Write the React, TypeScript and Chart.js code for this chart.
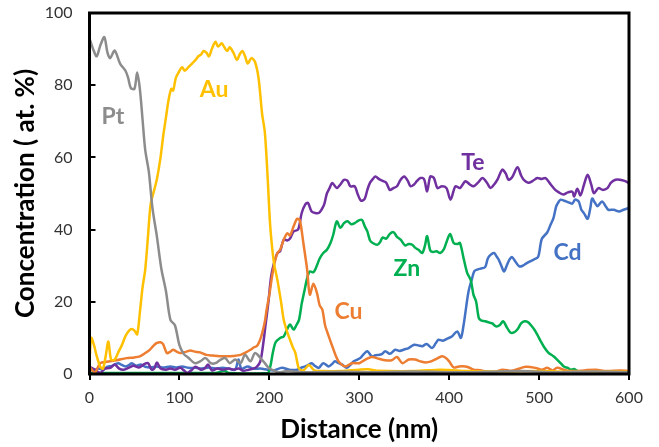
import React, { useEffect, useRef } from "react";
import { Chart, registerables } from "chart.js";

Chart.register(...registerables);

// ---- Data (distance in nm, concentration in at. %) ----
const ptX = [0, 4, 8, 12, 16.5, 20, 23, 28, 34, 40, 43, 46, 50, 53, 56, 59, 62, 66, 70, 75, 80, 85, 90, 95, 100, 105, 110, 117, 123, 129, 135, 140, 146, 151, 156, 162, 168, 173, 179, 184, 190, 195, 200, 205, 210, 220, 240, 280, 320, 360, 400, 440, 480, 520, 560, 600];
const ptY = [93, 90, 88, 91, 93.3, 89, 87.5, 89.6, 86, 84, 82, 79.2, 79, 83.5, 79, 70.5, 62, 56, 46, 38, 29, 23, 15, 13.5, 8, 5.5, 4.5, 3, 3.5, 4.4, 3, 3, 4, 4.4, 3, 4, 3, 5.3, 3.5, 5.8, 4.5, 3, 1.5, 1, 0.5, 0.8, 0.5, 0.6, 0.5, 0.7, 0.5, 0.6, 0.8, 0.5, 0.7, 0.5];

const auX = [0, 2, 5, 8, 12, 15, 18, 21, 24, 28, 32, 36, 40, 44, 47, 50, 53, 56, 59, 62, 65, 68, 72, 75, 79, 82, 85, 88, 91, 93, 96, 99, 103, 106, 110, 114, 118, 121, 124, 127, 130, 133, 136, 140, 143, 147, 150, 153, 156, 160, 164, 167, 170, 173, 176, 180, 184, 188, 192, 195, 198, 201, 205, 209, 213, 216, 220, 223, 226, 229, 233, 238, 244, 250, 260, 280, 300, 310, 320, 360, 390, 400, 420, 460, 500, 540, 580, 600];
const auY = [4, 10, 8, 5, 2, 1.5, 5, 9, 4, 4, 6, 8, 10.5, 12, 12.5, 12, 11, 17, 24, 29, 38, 47, 51, 54, 60, 66, 71, 76, 79, 78.5, 82, 83.5, 85, 84, 85, 86, 87, 88, 88.5, 89.5, 89, 88, 90, 92, 90.7, 91.6, 90.5, 89.5, 90.5, 89, 87, 88.5, 89.5, 88, 86, 87.5, 86.5, 82, 72, 67, 55, 41, 31, 26, 20, 15, 11.5, 9.5, 7.5, 5.8, 1.5, 1, 2.5, 1, 0.8, 0.8, 1.2, 1.3, 0.9, 0.8, 1.2, 1.1, 0.8, 0.7, 0.8, 0.6, 0.7, 0.6];

const cuX = [0, 6, 12, 19, 30, 41, 50, 56, 62, 67, 71, 75, 79, 82, 86, 90, 93, 97, 101, 105, 108, 112, 117, 123, 130, 137, 145, 152, 160, 168, 174, 179, 183, 186, 189, 192, 195, 197, 200, 203, 206, 209, 212, 216, 220, 223, 227, 231, 234, 238, 242, 245, 249, 253, 256, 259, 262, 266, 270, 274, 277, 281, 285, 292, 300, 307, 314, 322, 329, 336, 342, 348, 355, 362, 368, 374, 380, 386, 392, 396, 400, 405, 411, 418, 422, 427, 436, 448, 459, 470, 485, 496, 503, 509, 515, 520, 530, 540, 550, 563, 575, 590, 600];
const cuY = [2, 0.5, 3, 3.4, 3.8, 4.4, 4.6, 4.9, 5.8, 6.7, 7.8, 8.6, 8.8, 8.2, 5.8, 6.2, 6.7, 6.2, 5.8, 6, 6.2, 6.5, 6.2, 6, 5.3, 5.1, 4.9, 4.9, 5, 5.3, 6, 6.7, 7.4, 7.7, 9, 11.3, 14.5, 17.8, 22, 27, 31, 33.5, 34.4, 37.2, 39, 38.4, 40.9, 43, 42.5, 36, 29, 22, 25, 22.4, 19, 17.8, 13.5, 10.5, 7.7, 5, 3.5, 2.5, 2.1, 3, 3, 4, 4.7, 4.2, 3.8, 3.8, 4.7, 3, 4, 4, 3.5, 3.2, 3.5, 4.2, 4.9, 4.5, 3.5, 1.8, 2.1, 2.1, 1.8, 1.2, 1, 0.3, 1.2, 0.9, 2, 1.7, 1.2, 1.7, 1, 1.7, 1, 0.8, 1, 1.2, 0.8, 1, 0.8];

const teX = [0, 6, 12, 17, 23, 28, 33, 38, 44, 49, 55, 60, 65, 69, 72, 75, 79, 85, 90, 95, 101, 105, 109, 114, 118, 124, 128, 132, 136, 142, 148, 155, 160, 166, 171, 177, 182, 186, 190, 193, 196, 199, 202, 205, 209, 212, 216, 220, 223, 227, 232, 236, 240, 243, 247, 251, 255, 258, 261, 264, 267, 270, 275, 279, 283, 287, 290, 295, 298, 302, 306, 309, 312, 315, 318, 322, 326, 330, 334, 338, 342, 346, 350, 354, 357, 361, 364, 368, 372, 375.5, 379, 383, 387, 392, 397, 401.5, 407, 412, 418, 423, 427, 432, 437, 442, 446, 450, 454, 459, 463, 466, 470, 476, 480, 483, 488, 493, 498, 503, 507, 513, 518, 522, 527, 532, 537, 539, 542.5, 546, 550, 554, 558, 561, 566, 571, 576, 580, 585, 590, 595, 600];
const teY = [2, 1.2, 0.3, 1.5, 1.7, 2.6, 1.5, 1.2, 1.8, 2.3, 1.8, 2.6, 3, 1.2, 1.5, 3.2, 1.5, 1.2, 1.5, 1.2, 1.7, 1, 0.3, 1.2, 2, 1.2, 1.5, 2.6, 1, 1.5, 1.2, 1.5, 1.2, 1.5, 0.9, 1.2, 1.5, 2, 3.5, 8, 14, 20, 27, 30.5, 33.5, 34, 37.2, 37, 37.5, 39.5, 40, 44.6, 47, 47.4, 45, 44.6, 44.6, 45.5, 47, 50, 51.5, 52.9, 51.5, 52.5, 53.8, 53.5, 52, 52, 50, 48, 48.5, 51, 53, 54, 54.7, 54, 53.5, 53, 51, 51.5, 52, 53.8, 54.7, 53.5, 52, 52.5, 53.4, 54.3, 54, 50.6, 54.7, 54.3, 51.5, 52, 51.5, 48.3, 52, 51.5, 53.4, 52.5, 52, 53, 54.3, 53, 51.5, 52.5, 54, 56.6, 55.5, 53.8, 54.5, 57.3, 55, 53.8, 53, 53.5, 54.3, 54, 54.3, 52.5, 51, 50.3, 49.7, 50.3, 50.5, 49.2, 51.3, 49.5, 52.5, 55.2, 52.5, 50.1, 51.5, 51, 51.5, 53, 53.8, 53.8, 53.5, 52.9];

const znX = [0, 50, 100, 140, 150, 155, 198, 201, 204, 207, 212, 216, 220, 223, 227, 230, 233, 236, 239, 242, 245, 249, 252, 256, 260, 264, 268, 271, 275, 279, 283, 287, 291, 295, 299, 303, 306, 309, 312, 315, 320, 323, 326, 330, 334, 338, 342, 346, 351, 355, 359, 362, 366, 370, 373, 375.5, 379, 382, 386, 390, 394, 397, 401, 405, 409, 412, 416, 420, 424, 427, 430, 433, 436, 440, 444, 448, 452, 456, 460, 464, 468, 472, 476, 480, 484, 488, 491, 495, 498, 502, 505, 510, 516, 520, 524, 528, 532, 535, 539, 543, 546, 555, 600];
const znY = [0.3, 0.3, 0.3, 0.3, 0.9, 0.3, 0.3, 2, 6, 8.8, 10, 10.4, 12.5, 13.7, 12.3, 13.5, 15, 19.5, 23, 26.5, 28.4, 28.2, 29.5, 32, 33.5, 34.4, 36.3, 38.5, 42.3, 40.5, 41.8, 42.3, 41.5, 41.8, 42.5, 42.7, 41, 39.5, 37, 36.3, 35.8, 36.5, 37.8, 37.5, 38.8, 39.3, 38, 37.2, 35.6, 36, 35.8, 35, 34.4, 33.5, 35.5, 38.2, 34.2, 33.8, 34, 33.5, 34.5, 36.5, 38.8, 36.3, 36, 36.3, 32.1, 28, 26, 22, 20, 15.5, 14.8, 14.6, 14.3, 14, 13.2, 13.5, 14.6, 13, 11.5, 11.5, 12.4, 14, 14.6, 14.3, 13.5, 12.2, 10.9, 9, 7.7, 6, 4.9, 4, 3, 2, 1.7, 1.2, 1.4, 0.8, 0.6, 0.4, 0.3];

const cdX = [0, 5, 10, 15, 20, 25, 28, 32, 36, 40, 44, 47, 52, 57, 62, 68, 75, 82, 90, 97, 103, 110, 118, 125, 132, 140, 148, 155, 162, 165.7, 169, 176, 182, 190, 198, 205, 214, 222, 231, 236, 240, 244, 247, 251, 255, 260, 266, 270, 273, 277, 281, 286, 290, 294, 298, 301, 305, 309, 314, 318, 322, 325, 329, 334, 340, 345, 350, 355, 361, 366, 370, 375, 381, 385, 388, 393, 398, 403, 409, 413, 416, 418, 420, 422, 425, 428, 432, 435, 440, 443, 446, 450, 453, 455, 458, 461, 464, 467, 470, 474, 478, 482, 485, 490, 494, 499, 503, 509, 513, 516, 519, 522, 524, 528, 532, 537, 540, 544, 547, 550, 554, 557, 559, 562, 565, 570, 574, 577, 583, 589, 594, 600];
const cdY = [1.2, 1, 1.5, 1.2, 2, 2.2, 2.6, 3, 2.5, 2.1, 2.5, 3, 2.3, 2.6, 2, 1.8, 2.1, 1.8, 2.1, 1.8, 2.1, 1.7, 1.7, 1.5, 1.8, 1.5, 1.7, 1.5, 1.2, 4, 1.5, 2.1, 1.5, 1.5, 1.2, 1, 1.7, 1.2, 1.2, 1.8, 2.1, 2.6, 3, 2.2, 1.7, 3, 2.1, 2.8, 3.5, 3, 2.6, 1.7, 2.5, 3.5, 4, 4.4, 5.5, 6.3, 4.9, 5.2, 5.3, 5.5, 6.3, 5.6, 6.7, 6.4, 6.8, 7.2, 8.1, 7.9, 7.7, 8.3, 7.2, 8.5, 9.5, 9.2, 9.8, 10.4, 11.8, 10, 13.5, 16.9, 20.5, 23.4, 26, 28.5, 29, 29.2, 29.6, 32, 33, 33.5, 32.5, 31.7, 30, 28.4, 30, 31.7, 32.4, 31, 29.8, 30, 30.5, 31.2, 31.7, 32.5, 37.4, 39.2, 41.5, 43.2, 46.4, 47.8, 48.3, 48, 47.6, 47.2, 48.3, 47.8, 45.5, 44.5, 43, 46, 48.6, 47.5, 46.5, 47.8, 46.5, 45.5, 45.5, 45, 45.5, 46];

const seriesNames = ["Pt", "Au", "Cu", "Te", "Zn", "Cd"];
const seriesColors = ["#8c8c8c", "#FFC000", "#ED7D31", "#7030A0", "#00B050", "#4472C4"];
const seriesX = [ptX, auX, cuX, teX, znX, cdX];
const seriesY = [ptY, auY, cuY, teY, znY, cdY];

// in-plot series labels (anchored in data units)
const labelX = [26, 138.6, 288, 426.5, 353, 531.7];
const labelY = [71.3, 78.8, 17.4, 58.7, 29.2, 33.7];

const xTicks = [0, 100, 200, 300, 400, 500, 600];
const yTicks = [0, 20, 40, 60, 80, 100];

const FONT = "Lato, 'Liberation Sans', sans-serif";

export default function App() {
  const ref = useRef<HTMLCanvasElement | null>(null);

  useEffect(() => {
    const canvas = ref.current;
    if (!canvas) return;

    const framePlugin = {
      id: "frame",
      afterDatasetsDraw(chart: any) {
        const { ctx, chartArea, scales } = chart;
        const { left, right, top, bottom } = chartArea;
        ctx.save();
        // series labels
        ctx.font = `bold 23px ${FONT}`;
        ctx.textAlign = "center";
        ctx.textBaseline = "middle";
        seriesNames.forEach((n, i) => {
          ctx.fillStyle = seriesColors[i];
          ctx.fillText(n, scales.x.getPixelForValue(labelX[i]), scales.y.getPixelForValue(labelY[i]));
        });
        // frame
        ctx.strokeStyle = "#000";
        ctx.lineWidth = 3;
        ctx.strokeRect(left, top, right - left, bottom - top);
        ctx.lineWidth = 2;
        xTicks.forEach((v) => {
          const px = Math.round(scales.x.getPixelForValue(v));
          ctx.beginPath();
          ctx.moveTo(px, bottom);
          ctx.lineTo(px, bottom + 6);
          ctx.stroke();
        });
        yTicks.forEach((v) => {
          const py = Math.round(scales.y.getPixelForValue(v));
          ctx.beginPath();
          ctx.moveTo(left, py);
          ctx.lineTo(left + 6, py);
          ctx.stroke();
        });
        ctx.restore();
      },
    };

    const chart = new Chart(canvas, {
      type: "scatter",
      data: {
        datasets: seriesNames.map((n, i) => ({
          label: n,
          data: seriesX[i].map((x, j) => ({ x, y: seriesY[i][j] })),
          showLine: true,
          borderColor: seriesColors[i],
          backgroundColor: seriesColors[i],
          borderWidth: 2.5,
          pointRadius: 0,
          tension: 0.3,
        })),
      },
      options: {
        animation: false,
        responsive: false,
        devicePixelRatio: 1,
        layout: { padding: { top: 13, right: 30, left: 0, bottom: 0 } },
        plugins: { legend: { display: false }, tooltip: { enabled: false } },
        scales: {
          x: {
            type: "linear",
            min: 0,
            max: 600,
            afterFit: (s: any) => { s.height = 73; s.paddingLeft = 0; s.paddingRight = 0; },
            afterBuildTicks: (s: any) => { s.ticks = xTicks.map((v) => ({ value: v })); },
            grid: { display: false, drawTicks: false },
            border: { display: false },
            ticks: { color: "#333", font: { family: FONT, size: 16 }, padding: 14, maxRotation: 0 },
            title: { display: true, text: "Distance (nm)", color: "#000", font: { family: FONT, size: 26, weight: "bold" }, padding: { top: 0, bottom: 2 } },
          },
          y: {
            type: "linear",
            min: 0,
            max: 100,
            afterFit: (s: any) => { s.width = 89.5; s.paddingTop = 0; s.paddingBottom = 0; },
            afterBuildTicks: (s: any) => { s.ticks = yTicks.map((v) => ({ value: v })); },
            grid: { display: false, drawTicks: false },
            border: { display: false },
            ticks: { color: "#333", font: { family: FONT, size: 16 }, padding: 17 },
            title: { display: true, text: "Concentration ( at. %)", color: "#000", font: { family: FONT, size: 26, weight: "bold" }, padding: { top: 10, bottom: 0 } },
          },
        },
      },
      plugins: [framePlugin],
    });
    return () => chart.destroy();
  }, []);

  return (
    <div style={{ position: "fixed", left: 0, top: 0, width: 659, height: 447, background: "#fff" }}>
      <canvas ref={ref} width={659} height={447} style={{ width: 659, height: 447, display: "block" }} />
    </div>
  );
}
